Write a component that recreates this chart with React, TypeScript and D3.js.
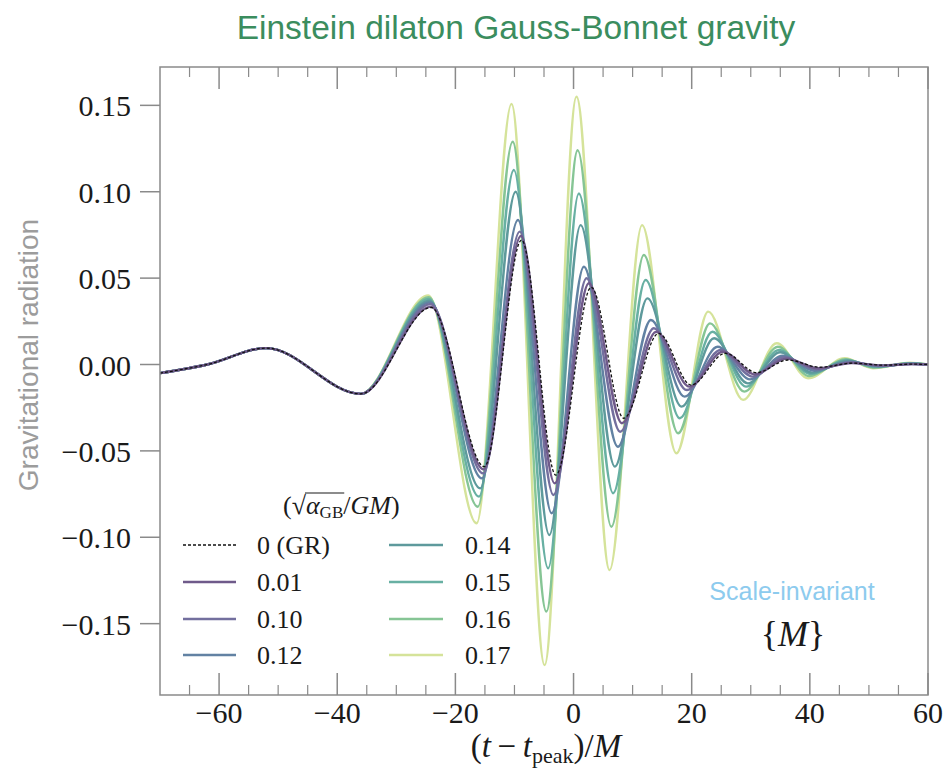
import React, { useLayoutEffect, useRef, useState } from "react";
import * as d3 from "d3";

// ---------- data ----------
const alphaLabels = ["0 (GR)", "0.01", "0.10", "0.12", "0.14", "0.15", "0.16", "0.17"];
const seriesColors = ["#111111", "#6f5a8a", "#736f9e", "#6282a3", "#5e9a9c", "#68b0a3", "#86c595", "#d5e39a"];

// common inspiral part (all series overlap)
const inspiralT = [-70, -62, -52, -36];
const inspiralH = [-0.005, 0, 0.0095, -0.017];

// merger / ringdown extrema per series
const mergerT_GR = [-24.1, -15.1, -8.8, -3.0, 3.0, 8.5, 14.4, 19.9, 25.7, 31.0, 36.3, 41.7, 47.3, 52.5, 57.5, 60];
const mergerH_GR = [0.033, -0.0591, 0.072, -0.064, 0.0447, -0.0311, 0.018, -0.0119, 0.0065, -0.0047, 0.0026, -0.0016, 0.0008, -0.0004, 0.0002, 0];
const mergerT_001 = [-24.15, -15.2, -8.9, -3.2, 2.6, 8.2, 14.0, 19.6, 25.3, 30.7, 36.0, 41.4, 47.1, 52.3, 57.4, 60];
const mergerH_001 = [0.0335, -0.0607, 0.0744, -0.0688, 0.047, -0.034, 0.019, -0.0128, 0.0074, -0.0057, 0.0034, -0.0022, 0.0009, -0.0005, 0.0002, 0];
const mergerT_010 = [-24.2, -15.3, -9.1, -3.4, 2.2, 7.9, 13.6, 19.2, 24.9, 30.3, 35.7, 41.1, 46.9, 52.0, 57.3, 60];
const mergerH_010 = [0.035, -0.063, 0.0769, -0.0755, 0.0499, -0.0389, 0.021, -0.0148, 0.0084, -0.007, 0.0042, -0.0028, 0.0012, -0.0007, 0.0003, 0];
const mergerT_012 = [-24.3, -15.5, -9.4, -3.7, 1.75, 7.5, 13.1, 18.8, 24.4, 29.9, 35.4, 40.8, 46.7, 51.7, 57.2, 60];
const mergerH_012 = [0.036, -0.0659, 0.0836, -0.0861, 0.0566, -0.0476, 0.0258, -0.0186, 0.0103, -0.0086, 0.0051, -0.0036, 0.0016, -0.0009, 0.0004, 0];
const mergerT_014 = [-24.4, -15.8, -9.8, -4.1, 1.2, 7.0, 12.5, 18.3, 23.8, 29.5, 35.0, 40.4, 46.4, 51.4, 57.1, 60];
const mergerH_014 = [0.037, -0.0717, 0.1, -0.0987, 0.0807, -0.0591, 0.0383, -0.0244, 0.0152, -0.0109, 0.0071, -0.0047, 0.0022, -0.0012, 0.0005, 0];
const mergerT_015 = [-24.5, -16.0, -10.1, -4.3, 0.9, 6.7, 12.2, 18.0, 23.5, 29.2, 34.8, 40.2, 46.2, 51.1, 57.0, 60];
const mergerH_015 = [0.038, -0.0765, 0.1126, -0.118, 0.099, -0.0745, 0.0489, -0.0311, 0.019, -0.0128, 0.0084, -0.0055, 0.0026, -0.0015, 0.0007, 0];
const mergerT_016 = [-24.5, -16.2, -10.3, -4.6, 0.7, 6.4, 11.9, 17.7, 23.1, 28.9, 34.6, 39.9, 46.0, 50.9, 56.9, 60];
const mergerH_016 = [0.039, -0.0823, 0.1289, -0.143, 0.124, -0.0939, 0.0634, -0.0398, 0.0238, -0.0157, 0.0103, -0.0067, 0.0031, -0.0018, 0.0008, 0];
const mergerT_017 = [-24.6, -16.4, -10.5, -4.9, 0.5, 6.1, 11.6, 17.4, 22.8, 28.7, 34.4, 39.7, 45.9, 50.7, 56.9, 60];
const mergerH_017 = [0.04, -0.0919, 0.1508, -0.174, 0.155, -0.119, 0.0807, -0.0514, 0.0306, -0.0205, 0.0123, -0.008, 0.0036, -0.0022, 0.001, 0];

const mergerT = [mergerT_GR, mergerT_001, mergerT_010, mergerT_012, mergerT_014, mergerT_015, mergerT_016, mergerT_017];
const mergerH = [mergerH_GR, mergerH_001, mergerH_010, mergerH_012, mergerH_014, mergerH_015, mergerH_016, mergerH_017];

const xTicks = [-60, -40, -20, 0, 20, 40, 60];
const xTickLabels = ["\u221260", "\u221240", "\u221220", "0", "20", "40", "60"];
const yTicks = [-0.15, -0.1, -0.05, 0, 0.05, 0.1, 0.15];
const yTickLabels = ["\u22120.15", "\u22120.10", "\u22120.05", "0.00", "0.05", "0.10", "0.15"];

// ---------- layout ----------
const W = 947;
const H = 770;
const L = 160, R = 928, T = 67, B = 695;
const SERIF = "'Liberation Serif', 'Times New Roman', serif";
const SANS = "'Liberation Sans', Arial, Helvetica, sans-serif";

export default function App() {
  const x = d3.scaleLinear().domain([-70, 60]).range([L, R]);
  const y = d3.scaleLinear().domain([-0.1913, 0.1722]).range([B, T]);

  const line = d3
    .line<[number, number]>()
    .x((d) => x(d[0]))
    .y((d) => y(d[1]))
    .curve(d3.curveMonotoneX);

  const series = alphaLabels.map((label, i) => {
    const pts: [number, number][] = [];
    inspiralT.forEach((t, k) => pts.push([t, inspiralH[k]]));
    mergerT[i].forEach((t, k) => pts.push([t, mergerH[i][k]]));
    return { label, color: seriesColors[i], pts, i };
  });

  const minorX = d3.range(-70, 61, 5).filter((v) => v % 20 !== 0 && v > -70 && v < 60);
  const frame = "#8a8a8a";

  // overline for the square root in the legend title
  const titleRef = useRef<SVGTextElement>(null);
  const [bar, setBar] = useState<{ x1: number; x2: number; y: number } | null>(null);
  useLayoutEffect(() => {
    const el = titleRef.current as any;
    if (!el || !el.getExtentOfChar) return;
    try {
      const root = el.getExtentOfChar(1);
      const a = el.getExtentOfChar(2);
      const b = el.getExtentOfChar(4);
      setBar({ x1: a.x - 1, x2: b.x + b.width + 1, y: root.y + 2 });
    } catch (e) {
      /* ignore */
    }
  }, []);

  const legendRows = [545, 582, 619, 655];
  const legendCols = [{ x0: 183, x1: 236, tx: 257 }, { x0: 389, x1: 443, tx: 465 }];

  return (
    <svg width={W} height={H} style={{ position: "absolute", left: 0, top: 0, background: "#fff" }}>
      {/* title */}
      <text x={516} y={39} textAnchor="middle" fontFamily={SANS} fontSize={33.5} fill="#3b8d5e">
        Einstein dilaton Gauss-Bonnet gravity
      </text>

      {/* y label */}
      <text
        transform={`translate(38, 355) rotate(-90)`}
        textAnchor="middle"
        fontFamily={SANS}
        fontSize={28}
        fill="#9c9c9c"
      >
        Gravitational radiation
      </text>

      <defs>
        <clipPath id="plotclip">
          <rect x={L} y={T} width={R - L} height={B - T} />
        </clipPath>
      </defs>

      {/* curves: largest coupling at bottom, GR on top */}
      <g clipPath="url(#plotclip)">
        {series
          .slice()
          .reverse()
          .map((s) => (
            <path
              key={s.label}
              d={line(s.pts) || ""}
              fill="none"
              stroke={s.color}
              strokeWidth={s.i === 0 ? 1.3 : 2.4}
              strokeDasharray={s.i === 0 ? "3,2" : undefined}
            />
          ))}
      </g>

      {/* frame */}
      <rect x={L} y={T} width={R - L} height={B - T} fill="none" stroke={frame} strokeWidth={1.5} />

      {/* x ticks */}
      {xTicks.map((v, k) => (
        <g key={"xt" + v}>
          <line x1={x(v)} x2={x(v)} y1={B} y2={B - 22} stroke={frame} strokeWidth={1.5} />
          <line x1={x(v)} x2={x(v)} y1={T} y2={T + 22} stroke={frame} strokeWidth={1.5} />
          <text x={x(v)} y={723} textAnchor="middle" fontFamily={SERIF} fontSize={30} fill="#1a1a1a">
            {xTickLabels[k]}
          </text>
        </g>
      ))}
      {minorX.map((v) => (
        <g key={"xm" + v}>
          <line x1={x(v)} x2={x(v)} y1={B} y2={B - 10} stroke={frame} strokeWidth={1.2} />
          <line x1={x(v)} x2={x(v)} y1={T} y2={T + 10} stroke={frame} strokeWidth={1.2} />
        </g>
      ))}

      {/* y ticks */}
      {yTicks.map((v, k) => (
        <g key={"yt" + v}>
          <line x1={L - 20} x2={L} y1={y(v)} y2={y(v)} stroke={frame} strokeWidth={1.5} />
          <text x={131} y={y(v) + 11} textAnchor="end" fontFamily={SERIF} fontSize={30} fill="#1a1a1a">
            {yTickLabels[k]}
          </text>
        </g>
      ))}

      {/* x label */}
      <text x={546} y={757} textAnchor="middle" fontFamily={SERIF} fontSize={33} fill="#1a1a1a">
        <tspan>(</tspan>
        <tspan fontStyle="italic">t</tspan>
        <tspan>{"\u2009\u2212\u2009"}</tspan>
        <tspan fontStyle="italic">t</tspan>
        <tspan fontSize={22} dy={6}>peak</tspan>
        <tspan dy={-6}>)/</tspan>
        <tspan fontStyle="italic">M</tspan>
      </text>

      {/* legend title */}
      <text ref={titleRef} x={283} y={514} fontFamily={SERIF} fontSize={26} fill="#1a1a1a">
        <tspan>(</tspan>
        <tspan>√</tspan>
        <tspan fontStyle="italic">α</tspan>
        <tspan fontSize={17} dy={4}>GB</tspan>
        <tspan dy={-4}>/</tspan>
        <tspan fontStyle="italic">GM</tspan>
        <tspan>)</tspan>
      </text>
      {bar && <line x1={bar.x1} x2={bar.x2} y1={bar.y} y2={bar.y} stroke="#1a1a1a" strokeWidth={1.1} />}

      {/* legend entries */}
      {series.map((s) => {
        const col = legendCols[s.i < 4 ? 0 : 1];
        const ry = legendRows[s.i % 4];
        return (
          <g key={"lg" + s.label}>
            <line
              x1={col.x0}
              x2={col.x1}
              y1={ry}
              y2={ry}
              stroke={s.color}
              strokeWidth={s.i === 0 ? 1.3 : 2.4}
              strokeDasharray={s.i === 0 ? "3,2" : undefined}
            />
            <text x={col.tx} y={ry + 9} fontFamily={SERIF} fontSize={26} fill="#1a1a1a">
              {s.label}
            </text>
          </g>
        );
      })}

      {/* annotation */}
      <text x={792} y={600} textAnchor="middle" fontFamily={SANS} fontSize={25} fill="#8dcbee">
        Scale-invariant
      </text>
      <text x={793} y={646} textAnchor="middle" fontFamily={SERIF} fontSize={36} fill="#1a1a1a">
        <tspan>{"{"}</tspan>
        <tspan fontStyle="italic">M</tspan>
        <tspan>{"}"}</tspan>
      </text>
    </svg>
  );
}
